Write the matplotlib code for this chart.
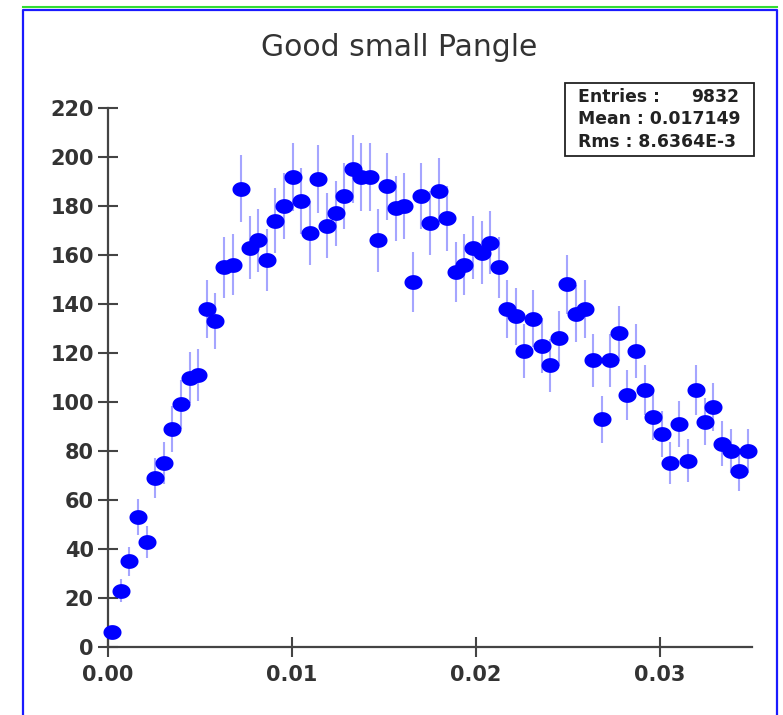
import numpy as np
import matplotlib
matplotlib.use("Agg")
import matplotlib.pyplot as plt
from matplotlib.path import Path
from matplotlib.lines import Line2D
from matplotlib.patches import Rectangle

# histogram of pangle, 75 bins between 0 and 0.035
x_min = 0.0
x_max = 0.035
n_bins = 75
counts = [6, 23, 35, 53, 43, 69, 75, 89, 99, 110,
          111, 138, 133, 155, 156, 187, 163, 166, 158, 174,
          180, 192, 182, 169, 191, 172, 177, 184, 195, 192,
          192, 166, 188, 179, 180, 149, 184, 173, 186, 175,
          153, 156, 163, 161, 165, 155, 138, 135, 121, 134,
          123, 115, 126, 148, 136, 138, 117, 93, 117, 128,
          103, 121, 105, 94, 87, 75, 91, 76, 105, 92,
          98, 83, 80, 72, 80]
x_ticks = [0.0, 0.01, 0.02, 0.03]
x_labels = ["0.00", "0.01", "0.02", "0.03"]
y_ticks = list(range(0, 221, 20))
title = "Good small Pangle"
stats = [("Entries :", "9832"), ("Mean : 0.017149", ""), ("Rms : 8.6364E-3", "")]

W, H = 783, 715
fig = plt.figure(figsize=(W / 100, H / 100), dpi=100)

# outer frame of the plot window
fig.add_artist(Line2D([23 / W, 777 / W], [1 - 7 / H, 1 - 7 / H], color="#33dd33", lw=1.5,
                      transform=fig.transFigure))
fig.add_artist(Line2D([23 / W, 23 / W, 777 / W, 777 / W], [0, 1 - 10 / H, 1 - 10 / H, 0],
                      color="#1a1aff", lw=1.6, transform=fig.transFigure))

ax = fig.add_axes([108 / W, (H - 647) / H, (752 - 108) / W, (647 - 108) / H])

edges = np.linspace(x_min, x_max, n_bins + 1)
centers = 0.5 * (edges[:-1] + edges[1:])
y = np.array(counts, dtype=float)
err = np.sqrt(y)

# slightly flattened dot as marker
t = np.linspace(0, 2 * np.pi, 60)
ellipse = Path(np.column_stack([np.cos(t), 0.82 * np.sin(t)]), closed=True)

ax.errorbar(centers, y, yerr=err, fmt="none", ecolor=(0.3, 0.3, 1.0, 0.5), elinewidth=1.5,
            capsize=0, zorder=2)
ax.plot(centers, y, linestyle="none", marker=ellipse, markersize=13, color="#0000ff",
        markeredgewidth=0, zorder=3, clip_on=False)

ax.set_xlim(x_min, x_max)
ax.set_ylim(0, 220)
ax.set_xticks(x_ticks)
ax.set_xticklabels(x_labels)
ax.set_yticks(y_ticks)

for s in ["top", "right"]:
    ax.spines[s].set_visible(False)
for s in ["left", "bottom"]:
    ax.spines[s].set_color("#444444")
    ax.spines[s].set_linewidth(1.6)

ax.tick_params(axis="both", direction="inout", length=14.4, width=1.5, color="#444444",
               labelsize=15, labelcolor="#333333")
ax.tick_params(axis="x", pad=6)
ax.tick_params(axis="y", pad=3)
for lab in ax.get_xticklabels() + ax.get_yticklabels():
    lab.set_fontweight("bold")

fig.text(399 / W, 1 - 47 / H, title, ha="center", va="center", fontsize=21.5, color="#333333")

# statistics box
fig.add_artist(Rectangle((565 / W, 1 - 156 / H), (754 - 565) / W, (156 - 83) / H,
                         transform=fig.transFigure, fill=False, edgecolor="#222222", lw=1.3))
for i, (left, right) in enumerate(stats):
    yy = 1 - (97 + 22.5 * i) / H
    fig.text(578 / W, yy, left, ha="left", va="center", fontsize=12.4, fontweight="bold",
             color="#222222")
    if right:
        fig.text(739 / W, yy, right, ha="right", va="center", fontsize=12.4, fontweight="bold",
                 color="#222222")

fig.savefig("out.png", dpi=100)
